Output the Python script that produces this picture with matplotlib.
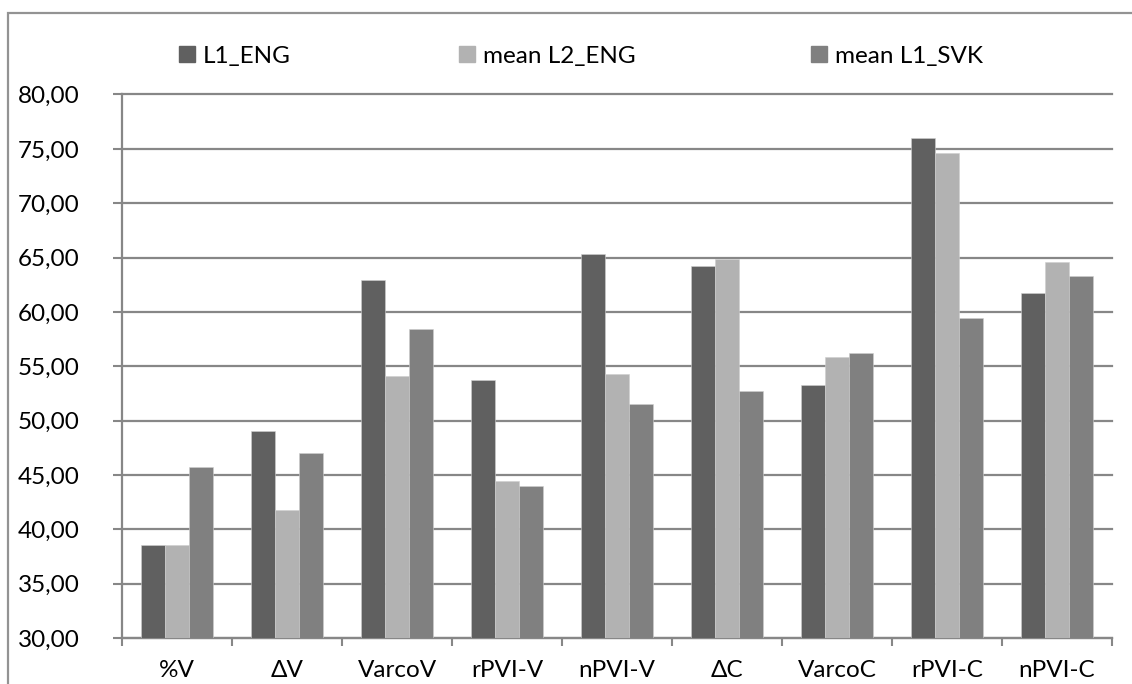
import matplotlib
matplotlib.use("Agg")
import matplotlib.pyplot as plt
from matplotlib.patches import Patch, Rectangle
import numpy as np

categories = ["%V", "ΔV", "VarcoV", "rPVI-V", "nPVI-V", "ΔC", "VarcoC", "rPVI-C", "nPVI-C"]
series_names = ["L1_ENG", "mean L2_ENG", "mean L1_SVK"]
l1_eng = [38.55, 49.02, 62.95, 53.75, 65.30, 64.25, 53.24, 76.03, 61.72]
l2_eng = [38.57, 41.80, 54.12, 44.45, 54.26, 64.90, 55.84, 74.61, 64.55]
l1_svk = [45.73, 47.05, 58.43, 43.98, 51.57, 52.72, 56.26, 59.46, 63.30]
y_ticks = [30, 35, 40, 45, 50, 55, 60, 65, 70, 75, 80]
y_tick_labels = ["30,00", "35,00", "40,00", "45,00", "50,00", "55,00", "60,00", "65,00", "70,00", "75,00", "80,00"]

colors = ["#606060", "#b2b2b2", "#808080"]
grid_c = "#878787"

plt.rcParams['font.family'] = ['Lato', 'DejaVu Sans']
FS = 17.5

W, H = 1132, 684
fig = plt.figure(figsize=(W / 100, H / 100), dpi=100)
fig.patch.set_facecolor("white")

# outer chart frame (extends beyond image on right/bottom)
fig.add_artist(Rectangle((7.5 / W, -0.1), 1.2, 1 - 12.5 / H + 0.1, transform=fig.transFigure,
                         fill=False, edgecolor="#939393", lw=1.6))

ax = fig.add_axes([122 / W, 1 - 638 / H, (1112 - 122) / W, (638 - 94.5) / H])
x = np.arange(len(categories))
bw = 0.218
for i, (vals, c) in enumerate(zip([l1_eng, l2_eng, l1_svk], colors)):
    ax.bar(x + (i - 1) * bw, np.array(vals) - 30, bottom=30, width=bw, color=c,
           edgecolor="#cfcfcf", linewidth=0.4, zorder=3)

ax.set_xlim(-0.5, len(categories) - 0.5)
ax.set_ylim(30, 80)
ax.set_yticks(y_ticks)
ax.set_yticklabels(y_tick_labels, fontsize=FS)
ax.set_xticks(x)
ax.set_xticklabels(categories, fontsize=FS)
ax.set_xticks(np.arange(-0.5, len(categories), 1.0), minor=True)
ax.tick_params(axis='x', which='major', length=0, pad=16)
ax.tick_params(axis='x', which='minor', length=6, color=grid_c, width=1.5)
ax.tick_params(axis='y', length=6.5, color=grid_c, width=1.5, pad=24)
ax.yaxis.grid(True, color=grid_c, lw=1.6, zorder=0)
ax.set_axisbelow(True)
for gl in ax.get_ygridlines():
    gl.set_clip_on(False)
for s in ["top", "right"]:
    ax.spines[s].set_visible(False)
for s in ["left", "bottom"]:
    ax.spines[s].set_color(grid_c)
    ax.spines[s].set_linewidth(1.6)

# legend entries placed separately
leg_x = [179, 459, 811]
for name, c, lx in zip(series_names, colors, leg_x):
    fig.legend(handles=[Patch(facecolor=c, edgecolor=c)], labels=[name],
               loc="center left", bbox_to_anchor=(lx / W, 1 - 56 / H), frameon=False,
               fontsize=FS, handlelength=0.66, handleheight=0.66, handletextpad=0.33,
               borderpad=0, borderaxespad=0)

fig.savefig("out.png", dpi=100)
